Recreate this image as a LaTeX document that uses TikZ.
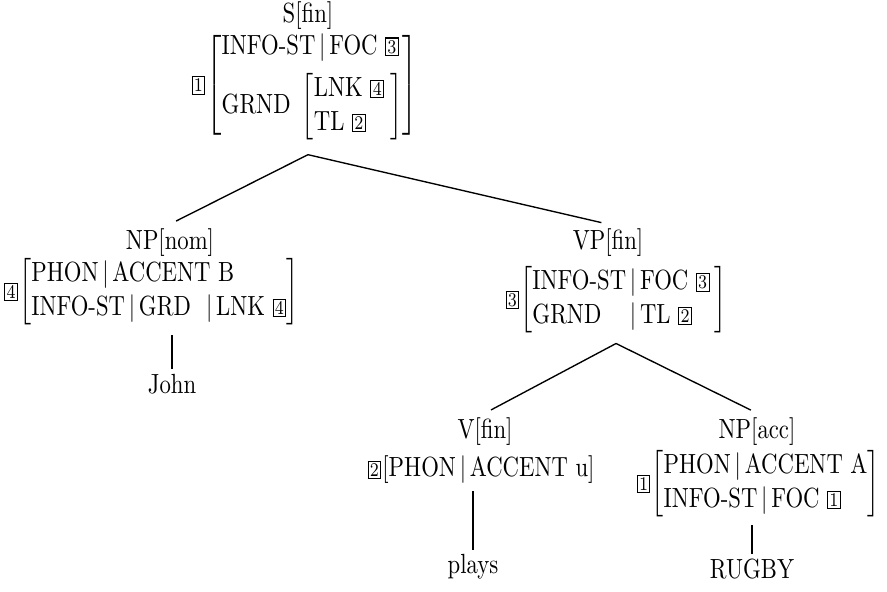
\documentclass[tikz,border=0pt]{standalone}
\usepackage{amsmath}
\usepackage{graphicx}
\usetikzlibrary{positioning}

% boxed tags: leading (centred) and inline
\newcommand{\itag}[1]{\raisebox{0.4pt}{\fboxsep=0.6pt\fbox{\scriptsize #1}}}
\newcommand{\ltag}[1]{\vcenter{\hbox{\fboxsep=0.6pt\fbox{\scriptsize #1}}}\mkern-2mu}
\newcommand{\ft}[1]{\textrm{#1}}
% the print is set tall and narrow
\newcommand{\tall}[1]{\scalebox{1}[1.22]{#1}}
\renewcommand{\arraystretch}{1.02}

\tikzset{
  cat/.style={inner sep=2pt},
  avm/.style={inner sep=0pt},
  word/.style={inner sep=2pt},
  branch/.style={line width=0.6pt, shorten >=3pt},
  stem/.style={line width=0.6pt}
}

\begin{document}
\begin{tikzpicture}[x=0.44pt, y=-0.44pt]
    \useasboundingbox (0,0) rectangle (887,591);

    % root
    \node[cat] (sfin) at (308,16) {\tall{S[fin]}};
    \node[avm, anchor=north east] (savm) at (418,30) {\tall{$\ltag{1}\left[\begin{array}{@{}l@{}}
        \ft{INFO-ST}\,|\,\ft{FOC}\ \itag{3}\\[3pt]
        \ft{GRND}\ \left[\begin{array}{@{}l@{\;}}\ft{LNK}\ \itag{4}\\ \ft{TL}\ \itag{2}\end{array}\right]
      \end{array}\right]$}};
    \coordinate[below=6pt of savm.south] (sapex);

    % subject
    \node[cat] (npnom) at (170,243) {\tall{NP[nom]}};
    \node[avm, anchor=west] (npnomavm) at (4,292) {\tall{$\ltag{4}\left[\begin{array}{@{}l@{}}
        \ft{PHON}\,|\,\ft{ACCENT B}\\
        \ft{INFO-ST}\,|\,\ft{GRD}\ \ |\,\ft{LNK}\ \itag{4}
      \end{array}\right]$}};
    \node[word] (john) at (172,384) {\tall{John}};
    \coordinate[below=4pt of npnomavm.south] (npnomfoot);

    % verb phrase
    \node[cat] (vpfin) at (608,243) {\tall{VP[fin]}};
    \node[avm, anchor=east] (vpavm) at (727,300) {\tall{$\ltag{3}\left[\begin{array}{@{}l@{\,|\,}l@{}}
        \ft{INFO-ST} & \ft{FOC}\ \itag{3}\\
        \ft{GRND} & \ft{TL}\ \itag{2}\quad
      \end{array}\right]$}};
    \coordinate[below=4pt of vpavm.south] (vpapex);

    % verb
    \node[cat] (vfin) at (485,432) {\tall{V[fin]}};
    \node[avm, anchor=east] (vavm) at (595,470) {\tall{$\ltag{2}\left[\ft{PHON}\,|\,\ft{ACCENT u}\right]$}};
    \node[word] (plays) at (473,567) {\tall{plays}};
    \coordinate[below=3pt of vavm.south] (vfoot);

    % object
    \node[cat] (npacc) at (757,432) {\tall{NP[acc]}};
    \node[avm, anchor=east] (npaccavm) at (880,484) {\tall{$\ltag{1}\left[\begin{array}{@{}l@{}}
        \ft{PHON}\,|\,\ft{ACCENT A}\\
        \ft{INFO-ST}\,|\,\ft{FOC}\ \itag{1}
      \end{array}\right]$}};
    \node[word] (rugby) at (752,569) {\tall{RUGBY}};
    \coordinate[below=0pt of npaccavm.south] (npaccfoot);

    % branches
    \draw[branch] (sapex -| sfin.south) -- (npnom.north);
    \draw[branch] (sapex -| sfin.south) -- (vpfin.north);
    \draw[branch] (vpapex) -- (vfin.north);
    \draw[branch] (vpapex) -- (npacc.north);
    \draw[stem] (npnomfoot -| john.north) -- (john.north);
    \draw[stem] (vfoot -| plays.north) -- (plays.north);
    \draw[stem] ([yshift=-3pt]npaccfoot -| rugby.north) -- (rugby.north);
\end{tikzpicture}
\end{document}
